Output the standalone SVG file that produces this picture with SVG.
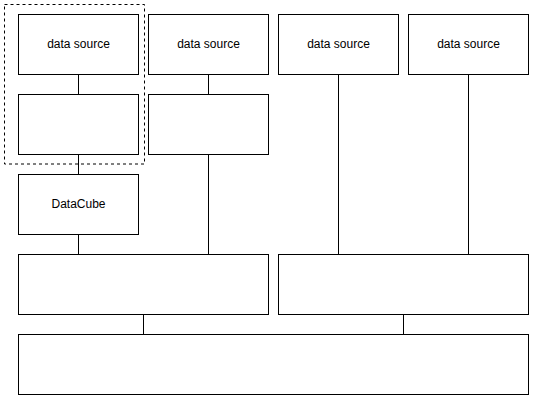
<svg xmlns="http://www.w3.org/2000/svg" width="535" height="403" viewBox="0 0 535 403">
<style>
.n{fill:#fff;stroke:#000;stroke-width:1}
.t{font-family:"Liberation Sans",Arial,sans-serif;font-size:12px;fill:#000;text-anchor:middle;dominant-baseline:central}
.c{stroke:#000;stroke-width:1;fill:none}
</style>
<rect width="535" height="403" fill="#fff"/>
<g id="connectors">
<path class="c" d="M78.5 74V94M78.5 154V174M78.5 234V254M208.5 74V94M208.5 154V254M338.5 74V254M468.5 74V254M143.5 314V334M403.5 314V334"/>
</g>
<g id="group"><rect x="4.5" y="4.5" width="140" height="159.5" fill="none" stroke="#000" stroke-dasharray="3,3"/></g>
<g id="ds1"><rect class="n" x="18.5" y="14.5" width="120" height="60"/><text class="t" x="78.5" y="43.5">data source</text></g>
<g id="ds2"><rect class="n" x="148.5" y="14.5" width="120" height="60"/><text class="t" x="208.5" y="43.5">data source</text></g>
<g id="ds3"><rect class="n" x="278.5" y="14.5" width="120" height="60"/><text class="t" x="338.5" y="43.5">data source</text></g>
<g id="ds4"><rect class="n" x="408.5" y="14.5" width="120" height="60"/><text class="t" x="468.5" y="43.5">data source</text></g>
<g id="p1"><rect class="n" x="18.5" y="94.5" width="120" height="60"/></g>
<g id="p2"><rect class="n" x="148.5" y="94.5" width="120" height="60"/></g>
<g id="cube"><rect class="n" x="18.5" y="174.5" width="120" height="60"/><text class="t" x="78.5" y="203.5">DataCube</text></g>
<g id="m1"><rect class="n" x="18.5" y="254.5" width="250" height="60"/></g>
<g id="m2"><rect class="n" x="278.5" y="254.5" width="250" height="60"/></g>
<g id="bottom"><rect class="n" x="18.5" y="334.5" width="510" height="60"/></g>
</svg>
